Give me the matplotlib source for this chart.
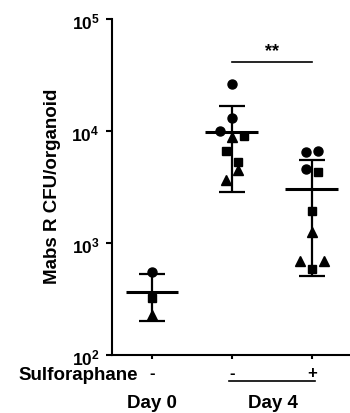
import numpy as np
import matplotlib.pyplot as plt
from matplotlib.ticker import FixedLocator, NullLocator, FuncFormatter
import matplotlib.transforms as mtransforms

plt.rcParams['font.family'] = ['Liberation Sans', 'DejaVu Sans']
plt.rcParams['font.weight'] = 'bold'
plt.rcParams['mathtext.fontset'] = 'custom'
plt.rcParams['mathtext.rm'] = 'Liberation Sans:bold'
plt.rcParams['mathtext.bf'] = 'Liberation Sans:bold'

# CFU per organoid, one list per condition
day0_cfu = [553, 326, 230]
day0_marker = ['o', 's', '^']

day4_ctrl_cfu = [26500, 13200, 10170, 9000, 9180, 6650, 5370, 4560, 3715]
day4_ctrl_marker = ['o', 'o', 'o', '^', 's', 's', 's', '^', '^']

day4_sfn_cfu = [6560, 6750, 4620, 4325, 1963, 1274, 702, 702, 592]
day4_sfn_marker = ['o', 'o', 'o', 's', 's', '^', '^', '^', 's']

sulforaphane_labels = ['-', '-', '+']
significance = '**'

groups = [(day0_cfu, day0_marker), (day4_ctrl_cfu, day4_ctrl_marker),
          (day4_sfn_cfu, day4_sfn_marker)]

# horizontal scatter so overlapping points stay visible
jitter = [
    [0, 0, 0],
    [0, 0, -0.15, 0, 0.15, -0.07, 0.08, 0.08, -0.07],
    [-0.07, 0.08, -0.07, 0.08, 0, 0, -0.14, 0.15, 0],
]
marker_size = {'o': 6.5, 's': 6, '^': 6.5}

fig = plt.figure(figsize=(3.5, 4.14), dpi=100)
ax = fig.add_axes([0.32, 0.1389, 0.68, 0.8116])

for i, (vals, marks) in enumerate(groups):
    vals = np.array(vals, dtype=float)
    mean = vals.mean()
    sd = vals.std(ddof=1)
    ax.errorbar(i, mean, yerr=sd, fmt='none', ecolor='black', elinewidth=1.6,
                capsize=9.4, capthick=1.6, zorder=2)
    ax.hlines(mean, i - 0.33, i + 0.33, color='black', lw=2.2, zorder=2)
    for v, m, dx in zip(vals, marks, jitter[i]):
        ax.plot(i + dx, v, marker=m, color='black', ms=marker_size[m],
                ls='none', zorder=3)

# significance bar between the two day 4 groups
ax.plot([1, 2], [42000, 42000], color='black', lw=1.2, clip_on=False)
ax.text(1.5, 44000, significance, ha='center', va='bottom', fontsize=13)

ax.set_yscale('log')
ax.set_ylim(100, 1e5)
ax.set_xlim(-0.5, 2.48)
ax.yaxis.set_major_locator(FixedLocator([1e2, 1e3, 1e4, 1e5]))
ax.yaxis.set_minor_locator(NullLocator())
ax.yaxis.set_major_formatter(FuncFormatter(
    lambda v, p: r'$\mathbf{10^{%d}}$' % round(np.log10(v))))

ax.set_xticks([0, 1, 2])
ax.set_xticklabels(sulforaphane_labels, fontsize=12, fontweight='bold')

for s in ['top', 'right']:
    ax.spines[s].set_visible(False)
for s in ['left', 'bottom']:
    ax.spines[s].set_linewidth(1.5)
ax.tick_params(axis='y', length=4, width=1.5, labelsize=12.5, pad=5)
ax.tick_params(axis='x', length=3, width=1.5, pad=4)

ax.set_ylabel('Mabs R CFU/organoid', fontsize=13.5, fontweight='bold', va='center')
ax.yaxis.set_label_coords(-0.252, 0.506)

trans = mtransforms.blended_transform_factory(ax.transData, ax.transAxes)
ax.plot([0.96, 2.04], [-0.075, -0.075], color='black', lw=1.2,
        transform=trans, clip_on=False)
ax.text(0, -0.14, 'Day 0', transform=trans, ha='center', va='center', fontsize=13.5)
ax.text(1.51, -0.14, 'Day 4', transform=trans, ha='center', va='center', fontsize=13.5)
fig.text(0.394, 0.0925, 'Sulforaphane', ha='right', va='center', fontsize=13.5)

fig.savefig('out.png', dpi=100)
